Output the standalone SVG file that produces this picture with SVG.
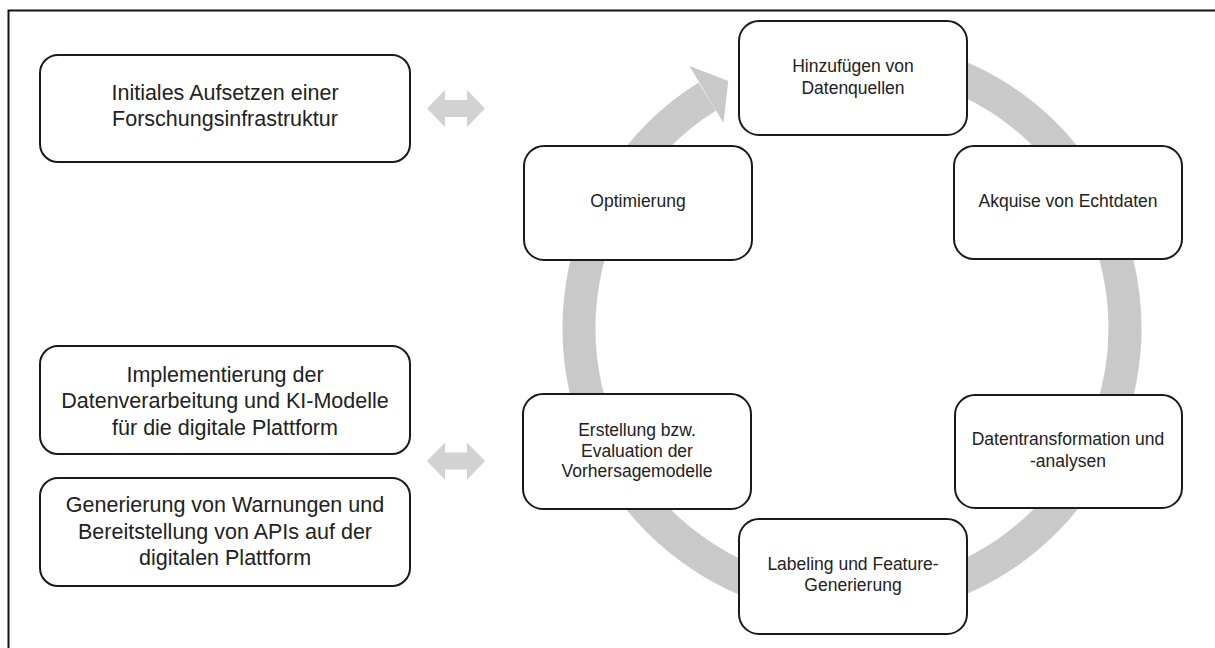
<svg xmlns="http://www.w3.org/2000/svg" width="1215" height="648" viewBox="0 0 1215 648">
<style>
.box{fill:#fff;stroke:#1a1a1a;stroke-width:2}
.t{font-family:"Liberation Sans",Arial,sans-serif;fill:#222;text-anchor:middle}
.lg{font-size:21.5px}
.sm{font-size:17.5px}
.ring{fill:none;stroke:#c9c9c9;stroke-width:33}
.dbl{fill:#d2d2d2}
</style>
<defs>
<path id="dblarrow" d="M0,0 L18,-18.5 L18,-8.5 L40,-8.5 L40,-18.5 L58,0 L40,18.5 L40,8.5 L18,8.5 L18,18.5 Z"/>
</defs>
<rect width="1215" height="648" fill="#fff"/>
<path d="M8.5,648 V10.5 H1215" fill="none" stroke="#111" stroke-width="2"/>

<g id="connectors">
<path class="ring" d="M852,55 A273,273 0 1 1 707.3,96.5"/>
<polygon fill="#c9c9c9" points="689.5,66 728.3,81 723.5,123"/>
<use href="#dblarrow" class="dbl" transform="translate(427,108.5)"/>
<use href="#dblarrow" class="dbl" transform="translate(427,461)"/>
</g>

<g id="n-initial">
<rect class="box" x="40" y="55" width="370" height="107" rx="18"/>
<text class="t lg" x="225" y="99.5">Initiales Aufsetzen einer</text>
<text class="t lg" x="225" y="126">Forschungsinfrastruktur</text>
</g>
<g id="n-implement">
<rect class="box" x="40" y="346" width="370" height="108" rx="18"/>
<text class="t lg" x="225" y="381.5">Implementierung der</text>
<text class="t lg" x="225" y="408">Datenverarbeitung und KI-Modelle</text>
<text class="t lg" x="225" y="434.5">für die digitale Plattform</text>
</g>
<g id="n-generierung">
<rect class="box" x="40" y="478" width="370" height="108" rx="18"/>
<text class="t lg" x="225" y="512">Generierung von Warnungen und</text>
<text class="t lg" x="225" y="538.5">Bereitstellung von APIs auf der</text>
<text class="t lg" x="225" y="565">digitalen Plattform</text>
</g>

<g id="n-hinzufuegen">
<rect class="box" x="739" y="21" width="228" height="114" rx="20"/>
<text class="t sm" x="853" y="72">Hinzufügen von</text>
<text class="t sm" x="853" y="93.5">Datenquellen</text>
</g>
<g id="n-akquise">
<rect class="box" x="954" y="146" width="228" height="113" rx="20"/>
<text class="t sm" x="1068" y="207">Akquise von Echtdaten</text>
</g>
<g id="n-transformation">
<rect class="box" x="955" y="395" width="227" height="113" rx="20"/>
<text class="t sm" x="1068" y="445">Datentransformation und</text>
<text class="t sm" x="1068" y="466.5">-analysen</text>
</g>
<g id="n-labeling">
<rect class="box" x="739" y="519" width="228" height="115" rx="20"/>
<text class="t sm" x="853" y="570">Labeling und Feature-</text>
<text class="t sm" x="853" y="590.5">Generierung</text>
</g>
<g id="n-erstellung">
<rect class="box" x="523" y="394" width="228" height="115" rx="20"/>
<text class="t sm" x="637" y="436">Erstellung bzw.</text>
<text class="t sm" x="637" y="456.5">Evaluation der</text>
<text class="t sm" x="637" y="477">Vorhersagemodelle</text>
</g>
<g id="n-optimierung">
<rect class="box" x="524" y="146" width="228" height="114" rx="20"/>
<text class="t sm" x="638" y="207">Optimierung</text>
</g>
</svg>
